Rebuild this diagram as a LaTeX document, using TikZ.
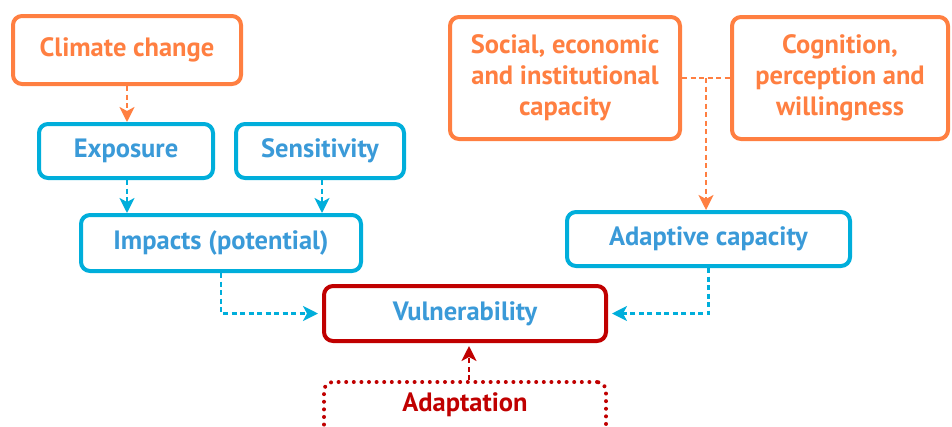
\documentclass[tikz,border=0pt]{standalone}
\usepackage{fontspec}
\setmainfont{PT Sans}
\usetikzlibrary{arrows.meta,calc}
\definecolor{ora}{HTML}{FF7F41}
\definecolor{cyanb}{HTML}{00AEDB}
\definecolor{bluet}{HTML}{3A9AD8}
\definecolor{redb}{HTML}{C00000}
\tikzset{
  box/.style={draw, line width=4pt, rounded corners=9pt, inner sep=0pt, align=center, font=\fontsize{26.5}{31}\selectfont\bfseries},
  obox/.style={box, draw=ora, text=ora},
  bbox/.style={box, draw=cyanb, text=bluet},
  conn/.style={line width=2.5pt, dash pattern=on 5pt off 3.5pt},
  oconn/.style={conn, draw=ora, -{Stealth[length=15pt,width=15pt,inset=4pt,fill=ora]}},
  bconn/.style={conn, draw=cyanb, -{Stealth[length=15pt,width=15pt,inset=4pt,fill=cyanb]}},
  rconn/.style={conn, draw=redb, -{Stealth[length=15pt,width=15pt,inset=4pt,fill=redb]}},
}
\begin{document}
\begin{tikzpicture}[x=1pt,y=-1pt]
\useasboundingbox (0,0) rectangle (952,426);
\clip (0,0) rectangle (952,426);
\node[obox, minimum width=228pt, minimum height=68pt] (climate) at (127,50) {Climate change};
\node[bbox, minimum width=174pt, minimum height=54pt] (exposure) at (126,151) {Exposure};
\node[bbox, minimum width=168pt, minimum height=54pt] (sensitivity) at (320,151) {Sensitivity};
\node[bbox, minimum width=280pt, minimum height=56pt] (impacts) at (221,243) {Impacts (potential)};
\node[box, draw=redb, text=bluet, minimum width=282pt, minimum height=55pt] (vuln) at (465,313.5) {Vulnerability};
\node[obox, minimum width=230pt, minimum height=122pt] (social) at (565,78) {Social, economic\\and institutional\\capacity};
\node[obox, minimum width=216pt, minimum height=122pt] (cognition) at (840,78) {Cognition,\\perception and\\willingness};
\node[bbox, minimum width=283pt, minimum height=54pt] (adaptive) at (708.5,239) {Adaptive capacity};
\node[draw=redb, line width=4pt, line cap=round, dash pattern=on 0pt off 7.6pt, rounded corners=9pt, inner sep=0pt, minimum width=282pt, minimum height=80pt] (adapt) at (465,422) {};
\node[font=\fontsize{26.5}{31}\selectfont\bfseries, text=redb, inner sep=0pt] (adaptlabel) at (465,405) {Adaptation};
\draw[oconn] (climate.south) -- (climate.south |- exposure.north);
\draw[bconn] ([xshift=1pt]exposure.south) -- ([xshift=1pt]exposure.south |- impacts.north);
\draw[bconn] ([xshift=2pt]sensitivity.south) -- ([xshift=2pt]sensitivity.south |- impacts.north);
\draw[bconn] (impacts.south) |- ([xshift=-4pt]vuln.west);
\draw[bconn] (adaptive.south) |- ([xshift=4pt]vuln.east);
\coordinate (mid) at ($(social.east)!0.5!(cognition.west)$);
\draw[ora, line width=2.5pt, dash pattern=on 5pt off 3.5pt] (social.east) -- (cognition.west);
\draw[oconn] (mid) -- (mid |- adaptive.north);
\draw[rconn] ([xshift=4pt]adapt.north) -- ([xshift=4pt,yshift=-3pt]vuln.south);
\end{tikzpicture}
\end{document}
